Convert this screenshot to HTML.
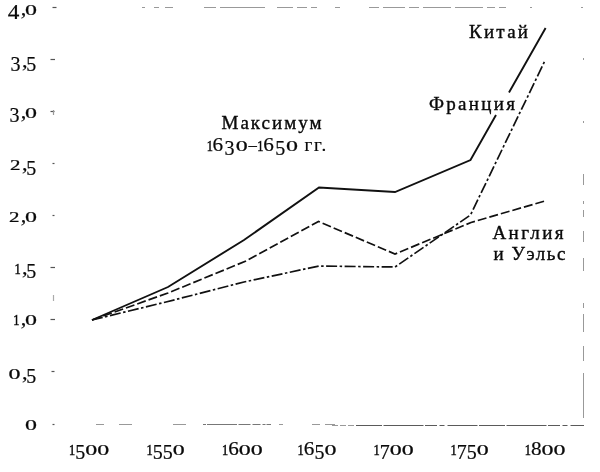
<!DOCTYPE html>
<html><head><meta charset="utf-8"><title>Chart</title>
<style>
html,body{margin:0;padding:0;background:#fff;}
svg{display:block;filter:grayscale(1)}
text{font-family:"Liberation Serif","DejaVu Serif",serif;fill:#0a0a0a;stroke:#0a0a0a;stroke-width:.38px}
.lbl{font-size:19px}
.num{stroke-width:.2px}
.xh{stroke-width:.22px}
.one{stroke-width:.5px}
</style></head><body>
<svg width="600" height="472" viewBox="0 0 600 472">
<rect width="600" height="472" fill="#fff"/>
<g stroke="#999" stroke-width="1" fill="none">
<path d="M142 7.5h3M154 7.5h5M165 7.5h8M204 7.5h12M220 7.5h45M277 7.5h16M297 7.5h10M311 7.5h6M335 7.5h5M369 7.5h10M383 7.5h22M409 7.5h10M423 7.5h28M455 7.5h28M487 7.5h8M499 7.5h7M530 7.5h2M581 7.5h2"/>
<path d="M583.5 58v2M583.5 121v2M583.5 174v11M583.5 201v3M583.5 210v7M583.5 231v11M583.5 258v13M583.5 303v5M583.5 314v18M583.5 346v15M583.5 373v45"/>
<path d="M96 424.5h8M119 424.5h13M173 424.5h13M279 424.5h4M312 424.5h8M325 424.5h10" />
<path d="M203 424.5h68" stroke="#777" stroke-dasharray="3 1 30 1.5 12 2 8 2"/><path d="M332 425.5h22" stroke="#999" stroke-dasharray="6 2"/><path d="M356 425.5h228" stroke="#5a5a5a" stroke-dasharray="26 1.5 40 1.5 12 2.5 5 3 30 1.5"/>
</g>
<g stroke="#555" stroke-width="1.2" fill="none"><path d="M52.5 7.5h4"/><path d="M50.5 59.5h4.5"/><path d="M50.5 111.5h4"/><path d="M52.5 163.5h2"/><path d="M52.5 215.5h2"/><path d="M50.5 267.5h4.5"/><path d="M50.5 319.5h4.5"/><path d="M51.5 371.5h3"/><path d="M52.5 424.5h2"/><path d="M53.5 110v5" stroke="#999"/><path d="M53.5 295v6" stroke="#aaa"/></g>
<g fill="none" stroke="#111" stroke-width="1.9" stroke-linejoin="miter">
<path d="M92 320L168 287L244 240L319 187.5L395 192L470.5 160L496 115M509 92.5L545.6 28"/>
<path d="M92 320L168 293L246 261L318.5 221.5L395 254L471 222.5L546.5 200.5" stroke-dasharray="9 3" stroke-width="1.7"/>
<path d="M92 320L166 302L244 282L319 266L395 267L470.5 215L544.8 61" stroke-dasharray="11 2.5 2.5 2.5" stroke-width="1.7"/>
</g>
<text class="num"><tspan x="7.8" y="19.4" font-size="20.5" textLength="11.6" lengthAdjust="spacingAndGlyphs">4</tspan><tspan x="20.7" y="15.0" font-size="21" textLength="5.6" lengthAdjust="spacingAndGlyphs">,</tspan><tspan class="xh" x="25.0" y="15.0" font-size="14.8" textLength="12.0" lengthAdjust="spacingAndGlyphs">0</tspan></text>
<text class="num"><tspan x="10.6" y="71.0" font-size="20.5" textLength="10.0" lengthAdjust="spacingAndGlyphs">3</tspan><tspan x="21.9" y="66.6" font-size="21" textLength="5.6" lengthAdjust="spacingAndGlyphs">,</tspan><tspan x="26.2" y="71.0" font-size="20.5" textLength="10.0" lengthAdjust="spacingAndGlyphs">5</tspan></text>
<text class="num"><tspan x="9.4" y="122.4" font-size="20.5" textLength="10.0" lengthAdjust="spacingAndGlyphs">3</tspan><tspan x="20.7" y="118.0" font-size="21" textLength="5.6" lengthAdjust="spacingAndGlyphs">,</tspan><tspan class="xh" x="25.0" y="118.0" font-size="14.8" textLength="12.0" lengthAdjust="spacingAndGlyphs">0</tspan></text>
<text class="num"><tspan class="xh" x="10.1" y="170.3" font-size="14.4" textLength="10.5" lengthAdjust="spacingAndGlyphs">2</tspan><tspan x="21.9" y="170.3" font-size="21" textLength="5.6" lengthAdjust="spacingAndGlyphs">,</tspan><tspan x="26.2" y="174.7" font-size="20.5" textLength="10.0" lengthAdjust="spacingAndGlyphs">5</tspan></text>
<text class="num"><tspan class="xh" x="8.9" y="222.0" font-size="14.4" textLength="10.5" lengthAdjust="spacingAndGlyphs">2</tspan><tspan x="20.7" y="222.0" font-size="21" textLength="5.6" lengthAdjust="spacingAndGlyphs">,</tspan><tspan class="xh" x="25.0" y="222.0" font-size="14.8" textLength="12.0" lengthAdjust="spacingAndGlyphs">0</tspan></text>
<text class="num"><tspan class="one" x="14.4" y="273.7" font-size="14.8" textLength="6.2" lengthAdjust="spacingAndGlyphs">1</tspan><tspan x="21.9" y="273.7" font-size="21" textLength="5.6" lengthAdjust="spacingAndGlyphs">,</tspan><tspan x="26.2" y="278.1" font-size="20.5" textLength="10.0" lengthAdjust="spacingAndGlyphs">5</tspan></text>
<text class="num"><tspan class="one" x="13.2" y="325.4" font-size="14.8" textLength="6.2" lengthAdjust="spacingAndGlyphs">1</tspan><tspan x="20.7" y="325.4" font-size="21" textLength="5.6" lengthAdjust="spacingAndGlyphs">,</tspan><tspan class="xh" x="25.0" y="325.4" font-size="14.8" textLength="12.0" lengthAdjust="spacingAndGlyphs">0</tspan></text>
<text class="num"><tspan class="xh" x="8.6" y="378.5" font-size="14.8" textLength="12.0" lengthAdjust="spacingAndGlyphs">0</tspan><tspan x="21.9" y="378.5" font-size="21" textLength="5.6" lengthAdjust="spacingAndGlyphs">,</tspan><tspan x="26.2" y="382.9" font-size="20.5" textLength="10.0" lengthAdjust="spacingAndGlyphs">5</tspan></text>
<text class="num"><tspan class="xh" x="25.0" y="430.0" font-size="14.8" textLength="12.0" lengthAdjust="spacingAndGlyphs">0</tspan></text>
<text class="num"><tspan class="one" x="69.0" y="455.0" font-size="14.8" textLength="6.2" lengthAdjust="spacingAndGlyphs">1</tspan><tspan x="75.2" y="459.4" font-size="20.5" textLength="10.0" lengthAdjust="spacingAndGlyphs">5</tspan><tspan class="xh" x="85.2" y="455.0" font-size="14.8" textLength="12.0" lengthAdjust="spacingAndGlyphs">0</tspan><tspan class="xh" x="97.2" y="455.0" font-size="14.8" textLength="12.0" lengthAdjust="spacingAndGlyphs">0</tspan></text>
<text class="num"><tspan class="one" x="146.5" y="455.0" font-size="14.8" textLength="6.2" lengthAdjust="spacingAndGlyphs">1</tspan><tspan x="152.7" y="459.4" font-size="20.5" textLength="10.0" lengthAdjust="spacingAndGlyphs">5</tspan><tspan x="162.7" y="459.4" font-size="20.5" textLength="10.0" lengthAdjust="spacingAndGlyphs">5</tspan><tspan class="xh" x="172.7" y="455.0" font-size="14.8" textLength="12.0" lengthAdjust="spacingAndGlyphs">0</tspan></text>
<text class="num"><tspan class="one" x="222.0" y="455.0" font-size="14.8" textLength="6.2" lengthAdjust="spacingAndGlyphs">1</tspan><tspan x="228.2" y="455.0" font-size="19.5" textLength="10.6" lengthAdjust="spacingAndGlyphs">6</tspan><tspan class="xh" x="238.8" y="455.0" font-size="14.8" textLength="12.0" lengthAdjust="spacingAndGlyphs">0</tspan><tspan class="xh" x="250.8" y="455.0" font-size="14.8" textLength="12.0" lengthAdjust="spacingAndGlyphs">0</tspan></text>
<text class="num"><tspan class="one" x="297.6" y="455.0" font-size="14.8" textLength="6.2" lengthAdjust="spacingAndGlyphs">1</tspan><tspan x="303.8" y="455.0" font-size="19.5" textLength="10.6" lengthAdjust="spacingAndGlyphs">6</tspan><tspan x="314.4" y="459.4" font-size="20.5" textLength="10.0" lengthAdjust="spacingAndGlyphs">5</tspan><tspan class="xh" x="324.4" y="455.0" font-size="14.8" textLength="12.0" lengthAdjust="spacingAndGlyphs">0</tspan></text>
<text class="num"><tspan class="one" x="373.5" y="455.0" font-size="14.8" textLength="6.2" lengthAdjust="spacingAndGlyphs">1</tspan><tspan x="379.7" y="459.4" font-size="20.5" textLength="10.0" lengthAdjust="spacingAndGlyphs">7</tspan><tspan class="xh" x="389.7" y="455.0" font-size="14.8" textLength="12.0" lengthAdjust="spacingAndGlyphs">0</tspan><tspan class="xh" x="401.7" y="455.0" font-size="14.8" textLength="12.0" lengthAdjust="spacingAndGlyphs">0</tspan></text>
<text class="num"><tspan class="one" x="450.5" y="455.0" font-size="14.8" textLength="6.2" lengthAdjust="spacingAndGlyphs">1</tspan><tspan x="456.7" y="459.4" font-size="20.5" textLength="10.0" lengthAdjust="spacingAndGlyphs">7</tspan><tspan x="466.7" y="459.4" font-size="20.5" textLength="10.0" lengthAdjust="spacingAndGlyphs">5</tspan><tspan class="xh" x="476.7" y="455.0" font-size="14.8" textLength="12.0" lengthAdjust="spacingAndGlyphs">0</tspan></text>
<text class="num"><tspan class="one" x="524.7" y="455.0" font-size="14.8" textLength="6.2" lengthAdjust="spacingAndGlyphs">1</tspan><tspan x="530.9" y="455.0" font-size="19.5" textLength="10.6" lengthAdjust="spacingAndGlyphs">8</tspan><tspan class="xh" x="541.5" y="455.0" font-size="14.8" textLength="12.0" lengthAdjust="spacingAndGlyphs">0</tspan><tspan class="xh" x="553.5" y="455.0" font-size="14.8" textLength="12.0" lengthAdjust="spacingAndGlyphs">0</tspan></text>
<text class="num"><tspan class="one" x="206.7" y="150.7" font-size="14.8" textLength="6.2" lengthAdjust="spacingAndGlyphs">1</tspan><tspan x="212.5" y="150.7" font-size="19.5" textLength="10.6" lengthAdjust="spacingAndGlyphs">6</tspan><tspan x="224.5" y="155.1" font-size="20.5" textLength="10.0" lengthAdjust="spacingAndGlyphs">3</tspan><tspan class="xh" x="235.7" y="150.7" font-size="14.8" textLength="12.0" lengthAdjust="spacingAndGlyphs">0</tspan><tspan x="248.5" y="150.7" font-size="18" textLength="8.4" lengthAdjust="spacingAndGlyphs">–</tspan><tspan class="one" x="257.2" y="150.7" font-size="14.8" textLength="6.2" lengthAdjust="spacingAndGlyphs">1</tspan><tspan x="263.2" y="150.7" font-size="19.5" textLength="10.6" lengthAdjust="spacingAndGlyphs">6</tspan><tspan x="275.2" y="155.1" font-size="20.5" textLength="10.0" lengthAdjust="spacingAndGlyphs">5</tspan><tspan class="xh" x="285.9" y="150.7" font-size="14.8" textLength="12.0" lengthAdjust="spacingAndGlyphs">0</tspan><tspan x="297.9" y="150.7" font-size="19" textLength="6" lengthAdjust="spacingAndGlyphs"> </tspan><tspan x="304.6" y="150.7" font-size="19" textLength="21.6" lengthAdjust="spacing">гг.</tspan></text>
<g class="lbl">
<text x="469" y="37.5" textLength="59" lengthAdjust="spacing">Китай</text>
<text x="429" y="110" textLength="86" lengthAdjust="spacing">Франция</text>
<text x="221.5" y="128.8" textLength="100" lengthAdjust="spacing">Максимум</text>
<text x="492.5" y="239.3" textLength="71" lengthAdjust="spacing">Англия</text>
<text x="493.5" y="260.3" textLength="72" lengthAdjust="spacing">и Уэльс</text>
</g>
</svg>
</body></html>
